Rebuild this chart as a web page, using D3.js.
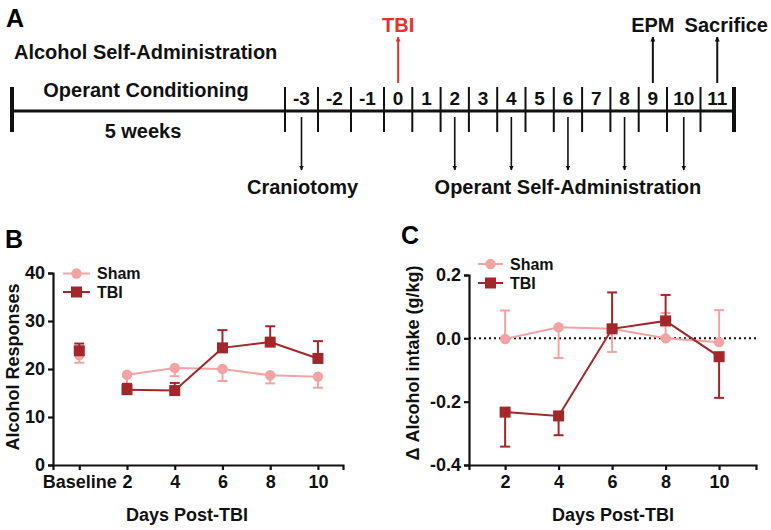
<!DOCTYPE html>
<html>
<head>
<meta charset="utf-8">
<script src="https://cdn.jsdelivr.net/npm/d3@7"></script>
<style>
  html, body { margin: 0; padding: 0; background: #fff; }
  svg text { font-family: "Liberation Sans", Arial, sans-serif; font-weight: bold; }
</style>
</head>
<body>
<svg id="chart" width="771" height="530"></svg>
<script>
// ---------- Panel A data ----------
const timelineDays = [-3, -2, -1, 0, 1, 2, 3, 4, 5, 6, 7, 8, 9, 10, 11];
const upEvents = [
  { day: 0, label: "TBI", red: true },
  { day: 9, label: "EPM", red: false },
  { day: 11, label: "Sacrifice", red: false }
];
const downEventsCraniotomy = [-3];
const downEventsOperant = [2, 4, 6, 8, 10];

// ---------- Panel B data ----------
const daysB = [0, 2, 4, 6, 8, 10];
const xTickLabelsB = ["Baseline", "2", "4", "6", "8", "10"];
const yTicksB = [0, 10, 20, 30, 40];
const shamResponses = [22.9, 18.8, 20.2, 20.0, 18.7, 18.4];
const shamResponsesErrEnd = [21.3, 16.9, 18.5, 17.5, 17.0, 16.1];
const tbiResponses = [23.8, 15.7, 15.5, 24.4, 25.6, 22.2];
const tbiResponsesErrEnd = [25.3, 16.9, 17.1, 28.1, 28.9, 25.8];

// ---------- Panel C data ----------
const daysC = [2, 4, 6, 8, 10];
const yTicksC = [-0.4, -0.2, 0.0, 0.2];
const shamIntake = [-0.002, 0.035, 0.03, 0.0, -0.012];
const shamIntakeErrEnd = [0.088, -0.062, -0.043, 0.08, 0.089];
const tbiIntake = [-0.233, -0.245, 0.03, 0.055, -0.058];
const tbiIntakeErrEnd = [-0.342, -0.306, 0.145, 0.137, -0.188];

const SHAM = "#F4A3A3";
const TBI = "#A3262A";
const RED = "#E8302C";

const svg = d3.select("#chart");
const defs = svg.append("defs");
function arrowMarker(id, color) {
  defs.append("marker").attr("id", id)
    .attr("viewBox", "0 0 10 10").attr("refX", 9).attr("refY", 5)
    .attr("markerWidth", 5).attr("markerHeight", 5)
    .attr("markerUnits", "userSpaceOnUse")
    .attr("orient", "auto")
    .append("path").attr("d", "M0,0 L10,5 L0,10 z").attr("fill", color);
}
arrowMarker("arrBlack", "#111");
arrowMarker("arrRed", RED);

// ================= Panel A =================
const gA = svg.append("g");
gA.append("text").attr("x", 6).attr("y", 18).attr("dy", "0.36em")
  .attr("font-size", 25).text("A");

const tx = d3.scaleLinear().domain([-3.5, -0.5, 9.5, 11.5]).range([285, 384, 667, 734]);
const lineY = 111, startX = 12;

gA.append("line").attr("x1", startX).attr("x2", tx(11.5)).attr("y1", lineY).attr("y2", lineY)
  .attr("stroke", "#111").attr("stroke-width", 3);
gA.append("line").attr("x1", startX).attr("x2", startX).attr("y1", 87).attr("y2", 132)
  .attr("stroke", "#111").attr("stroke-width", 4);
gA.append("line").attr("x1", tx(11.5)).attr("x2", tx(11.5)).attr("y1", 87).attr("y2", 132)
  .attr("stroke", "#111").attr("stroke-width", 4);

gA.selectAll(".sep").data(timelineDays).enter().append("line")
  .attr("x1", d => tx(d - 0.5)).attr("x2", d => tx(d - 0.5))
  .attr("y1", 87).attr("y2", 132).attr("stroke", "#111").attr("stroke-width", 2);

gA.selectAll(".dayLbl").data(timelineDays).enter().append("text")
  .attr("x", d => tx(d)).attr("y", 98.5).attr("dy", "0.36em")
  .attr("text-anchor", "middle").attr("font-size", 19).attr("fill", "#111")
  .text(d => d);

gA.append("text").attr("x", 14).attr("y", 52).attr("dy", "0.36em").attr("font-size", 20).attr("fill", "#111")
  .text("Alcohol Self-Administration");
gA.append("text").attr("x", 146).attr("y", 90).attr("dy", "0.36em").attr("text-anchor", "middle")
  .attr("font-size", 20).attr("fill", "#111").text("Operant Conditioning");
gA.append("text").attr("x", 143).attr("y", 130.5).attr("dy", "0.36em").attr("text-anchor", "middle")
  .attr("font-size", 20).attr("fill", "#111").text("5 weeks");

// up arrows
gA.selectAll(".up").data(upEvents).enter().append("line")
  .attr("x1", d => tx(d.day)).attr("x2", d => tx(d.day))
  .attr("y1", 83).attr("y2", 37)
  .attr("stroke", d => d.red ? RED : "#111").attr("stroke-width", 2)
  .attr("marker-end", d => d.red ? "url(#arrRed)" : "url(#arrBlack)");
gA.selectAll(".upLbl").data(upEvents).enter().append("text")
  .attr("x", d => tx(d.day) + (d.label === "Sacrifice" ? 9 : 0)).attr("y", 24.5).attr("dy", "0.36em")
  .attr("text-anchor", "middle").attr("font-size", 20)
  .attr("fill", d => d.red ? RED : "#111").text(d => d.label);

// down arrows
const downAll = downEventsCraniotomy.concat(downEventsOperant);
gA.selectAll(".down").data(downAll).enter().append("line")
  .attr("x1", d => tx(d)).attr("x2", d => tx(d))
  .attr("y1", 117).attr("y2", 170)
  .attr("stroke", "#111").attr("stroke-width", 1.6)
  .attr("marker-end", "url(#arrBlack)");
gA.append("text").attr("x", tx(-3) + 1).attr("y", 186.5).attr("dy", "0.36em").attr("text-anchor", "middle")
  .attr("font-size", 20).attr("fill", "#111").text("Craniotomy");
gA.append("text").attr("x", tx(6)).attr("y", 186.5).attr("dy", "0.36em").attr("text-anchor", "middle")
  .attr("font-size", 20).attr("fill", "#111").text("Operant Self-Administration");

// ================= Common plotting helper =================
function drawSeries(g, x, y, days, means, errEnds, color, shape) {
  days.forEach((d, i) => {
    g.append("line").attr("x1", x(d)).attr("x2", x(d))
      .attr("y1", y(means[i])).attr("y2", y(errEnds[i]))
      .attr("stroke", color).attr("stroke-width", 2);
    g.append("line").attr("x1", x(d) - 5).attr("x2", x(d) + 5)
      .attr("y1", y(errEnds[i])).attr("y2", y(errEnds[i]))
      .attr("stroke", color).attr("stroke-width", 2);
  });
  drawMarkers(g, x, y, days, means, color, shape);
}
function drawMarkers(g, x, y, days, means, color, shape) {
  days.forEach((d, i) => {
    if (shape === "circle") {
      g.append("circle").attr("cx", x(d)).attr("cy", y(means[i])).attr("r", 5.2).attr("fill", color);
    } else {
      g.append("rect").attr("x", x(d) - 5.5).attr("y", y(means[i]) - 5.5)
        .attr("width", 11).attr("height", 11).attr("fill", color);
    }
  });
}
function drawLine(g, x, y, days, means, color) {
  g.append("path").datum(days.map((d, i) => [d, means[i]]))
    .attr("d", d3.line().x(p => x(p[0])).y(p => y(p[1])))
    .attr("fill", "none").attr("stroke", color).attr("stroke-width", 2);
}
function styleAxis(sel) {
  sel.select(".domain").attr("stroke", "#111").attr("stroke-width", 2.2);
  sel.selectAll(".tick line").attr("stroke", "#111").attr("stroke-width", 2.2);
  sel.selectAll(".tick text").attr("fill", "#111").attr("font-size", 18)
    .attr("font-family", "Liberation Sans, Arial, sans-serif").attr("font-weight", "bold");
}
function legend(g, x0, x1, ySham, yTbi, tx0) {
  g.append("line").attr("x1", x0).attr("x2", x1).attr("y1", ySham).attr("y2", ySham)
    .attr("stroke", SHAM).attr("stroke-width", 2);
  g.append("circle").attr("cx", (x0 + x1) / 2).attr("cy", ySham).attr("r", 5.2).attr("fill", SHAM);
  g.append("line").attr("x1", x0).attr("x2", x1).attr("y1", yTbi).attr("y2", yTbi)
    .attr("stroke", TBI).attr("stroke-width", 2);
  g.append("rect").attr("x", (x0 + x1) / 2 - 5.5).attr("y", yTbi - 5.5).attr("width", 11).attr("height", 11).attr("fill", TBI);
  g.append("text").attr("x", tx0).attr("y", ySham).attr("dy", "0.36em").attr("font-size", 16).attr("fill", "#111").text("Sham");
  g.append("text").attr("x", tx0).attr("y", yTbi).attr("dy", "0.36em").attr("font-size", 16).attr("fill", "#111").text("TBI");
}

// ================= Panel B =================
const gB = svg.append("g");
gB.append("text").attr("x", 5).attr("y", 239).attr("dy", "0.36em").attr("font-size", 25).text("B");
const xB = d3.scaleLinear().domain([-1.1, 11.05]).range([53, 343]);
const yB = d3.scaleLinear().domain([0, 40]).range([465, 273]);

const axBx = gB.append("g").attr("transform", "translate(0,465)")
  .call(d3.axisBottom(xB).tickValues(daysB).tickFormat((d, i) => xTickLabelsB[i]).tickSizeOuter(0).tickSize(5).tickPadding(5));
styleAxis(axBx);
const axBy = gB.append("g").attr("transform", "translate(53,0)")
  .call(d3.axisLeft(yB).tickValues(yTicksB).tickSizeOuter(0).tickSize(5).tickPadding(3));
styleAxis(axBy);

const postB = daysB.slice(1);
drawLine(gB, xB, yB, postB, shamResponses.slice(1), SHAM);
drawSeries(gB, xB, yB, daysB, shamResponses, shamResponsesErrEnd, SHAM, "circle");
drawLine(gB, xB, yB, postB, tbiResponses.slice(1), TBI);
drawSeries(gB, xB, yB, daysB, tbiResponses, tbiResponsesErrEnd, TBI, "square");

legend(gB, 63, 90, 273.5, 292, 97);

gB.append("text").attr("x", 187).attr("y", 515).attr("dy", "0.36em").attr("text-anchor", "middle")
  .attr("font-size", 18).attr("fill", "#111").text("Days Post-TBI");
gB.append("text").attr("transform", "translate(13,367) rotate(-90)").attr("dy", "0.36em")
  .attr("text-anchor", "middle").attr("font-size", 18).attr("fill", "#111").text("Alcohol Responses");

// ================= Panel C =================
const gC = svg.append("g");
gC.append("text").attr("x", 401).attr("y", 235).attr("dy", "0.36em").attr("font-size", 25).text("C");
const xC = d3.scaleLinear().domain([0.65, 11.38]).range([469, 756]);
const yC = d3.scaleLinear().domain([-0.4, 0.2]).range([465, 275]);

gC.append("line").attr("x1", xC(0.65)).attr("x2", xC(11.38)).attr("y1", yC(0)).attr("y2", yC(0))
  .attr("stroke", "#111").attr("stroke-width", 2).attr("stroke-dasharray", "2,3");

const axCx = gC.append("g").attr("transform", "translate(0,465)")
  .call(d3.axisBottom(xC).tickValues(daysC).tickSizeOuter(0).tickSize(5).tickPadding(5));
styleAxis(axCx);
const axCy = gC.append("g").attr("transform", "translate(469,0)")
  .call(d3.axisLeft(yC).tickValues(yTicksC).tickFormat(d3.format(".1f")).tickSizeOuter(0).tickSize(5).tickPadding(3));
styleAxis(axCy);
axCy.selectAll(".tick text").text(d => d3.format(".1f")(d).replace("\u2212", "-"));

drawLine(gC, xC, yC, daysC, shamIntake, SHAM);
drawSeries(gC, xC, yC, daysC, shamIntake, shamIntakeErrEnd, SHAM, "circle");
drawLine(gC, xC, yC, daysC, tbiIntake, TBI);
drawSeries(gC, xC, yC, daysC, tbiIntake, tbiIntakeErrEnd, TBI, "square");

legend(gC, 478, 503, 264, 283, 510);

gC.append("text").attr("x", 613).attr("y", 515).attr("dy", "0.36em").attr("text-anchor", "middle")
  .attr("font-size", 18).attr("fill", "#111").text("Days Post-TBI");
gC.append("text").attr("transform", "translate(413,363) rotate(-90)").attr("dy", "0.36em")
  .attr("text-anchor", "middle").attr("font-size", 18).attr("fill", "#111").text("\u0394 Alcohol intake (g/kg)");
</script>
</body>
</html>
